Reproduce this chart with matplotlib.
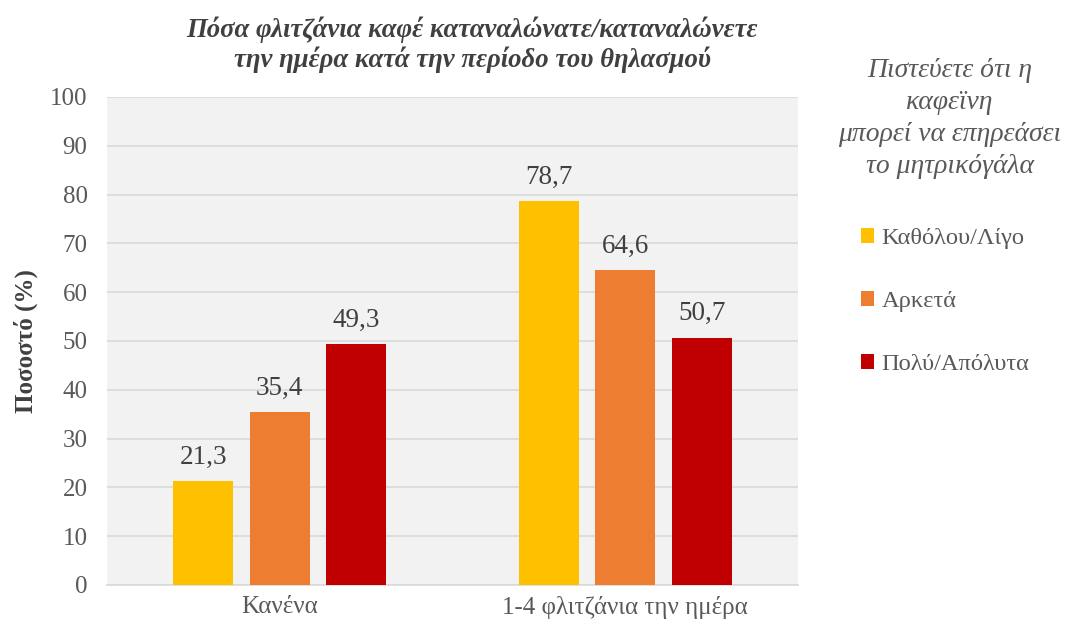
import matplotlib.pyplot as plt
import numpy as np

plt.rcParams['font.family'] = ['Liberation Serif', 'DejaVu Serif']

categories = ['Κανένα', '1-4 φλιτζάνια την ημέρα']
series_names = ['Καθόλου/Λίγο', 'Αρκετά', 'Πολύ/Απόλυτα']
values = [
    [21.3, 78.7],
    [35.4, 64.6],
    [49.3, 50.7],
]
colors = ['#FFC000', '#ED7D31', '#C00000']
y_ticks = list(range(0, 101, 10))

fig = plt.figure(figsize=(10.66, 6.27), dpi=100)
ax = fig.add_axes([0.1004, 0.067, 0.6482, 0.7783])
ax.set_facecolor('#F2F2F2')

x = np.arange(len(categories))
width = 0.174
step = 0.2215
for i, (name, vals, c) in enumerate(zip(series_names, values, colors)):
    pos = x + (i - 1) * step
    bars = ax.bar(pos, vals, width, color=c, label=name, zorder=3)
    for b, v in zip(bars, vals):
        ax.text(b.get_x() + b.get_width() / 2, v + 2.3, f'{v:.1f}'.replace('.', ','),
                ha='center', va='bottom', fontsize=19.5, color='#404040')

ax.set_xlim(-0.5, 1.5)
ax.set_ylim(0, 100)
ax.set_yticks(y_ticks)
ax.set_xticks(x)
ax.set_xticklabels(categories)
ax.grid(axis='y', color='#D9D9D9', linewidth=1.2, zorder=0)
ax.tick_params(axis='both', length=0, labelsize=18, colors='#595959')
ax.tick_params(axis='y', pad=14)
ax.tick_params(axis='x', pad=8)
for s in ['top', 'right', 'left']:
    ax.spines[s].set_visible(False)
ax.spines['bottom'].set_color('#D9D9D9')
ax.spines['bottom'].set_linewidth(1.2)

ax.set_ylabel('Ποσοστό (%)', fontsize=18, fontweight='bold', color='#404040', labelpad=9)

fig.text(0.443, 0.974, 'Πόσα φλιτζάνια καφέ καταναλώνατε/καταναλώνετε\nτην ημέρα κατά την περίοδο του θηλασμού',
         ha='center', va='top', fontsize=19.3, fontweight='bold', style='italic',
         color='#404040', linespacing=1.2)

fig.text(0.891, 0.908, 'Πιστεύετε ότι η\nκαφεϊνη\nμπορεί να επηρεάσει\nτο μητρικόγάλα',
         ha='center', va='top', fontsize=19.9, style='italic', color='#595959',
         linespacing=1.38)

leg = fig.legend(loc='center left', bbox_to_anchor=(0.796, 0.519), frameon=False,
                 fontsize=17.6, labelspacing=1.72, handlelength=0.55, handleheight=0.55,
                 handletextpad=0.3, borderpad=0, labelcolor='#595959')

fig.savefig('out.png', dpi=100)
